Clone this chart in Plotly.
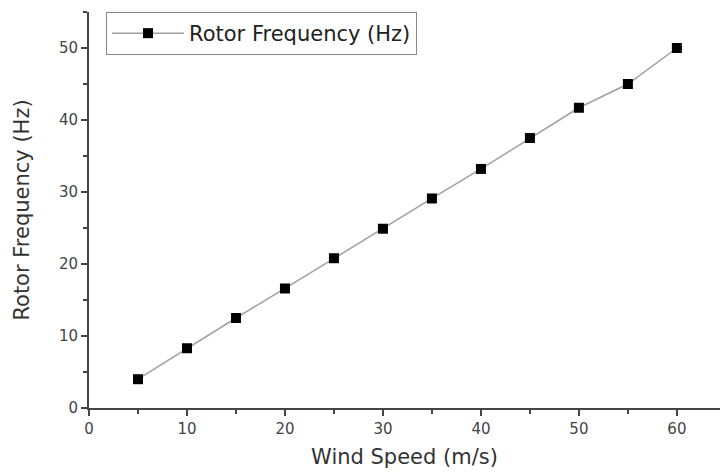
import plotly.graph_objects as go

wind_speed = [5, 10, 15, 20, 25, 30, 35, 40, 45, 50, 55, 60]
rotor_freq = [4.0, 8.3, 12.5, 16.6, 20.8, 24.9, 29.1, 33.2, 37.5, 41.7, 45.0, 50.0]

FONT = "DejaVu Sans, Liberation Sans, Arial"

fig = go.Figure()
fig.add_trace(go.Scatter(
    x=wind_speed, y=rotor_freq, mode="lines+markers",
    name="Rotor Frequency (Hz)", showlegend=True,
    line=dict(color="#a0a0a0", width=1.5),
    marker=dict(symbol="square", size=10, color="black"),
))

axis_common = dict(
    showline=True, linecolor="#444", linewidth=2,
    ticks="outside", ticklen=6, tickwidth=2, tickcolor="#444",
    showgrid=False, zeroline=False,
    tickfont=dict(family=FONT, size=15, color="#444"),
    title_font=dict(family=FONT, size=21, color="#333"),
)

fig.update_xaxes(
    range=[0, 64.4], dtick=10, title_text="Wind Speed (m/s)", title_standoff=12,
    minor=dict(dtick=5, ticks="outside", ticklen=4, tickwidth=2, tickcolor="#444"),
    **axis_common,
)
fig.update_yaxes(
    range=[0, 55], dtick=10, title_text="Rotor Frequency (Hz)", title_standoff=24,
    minor=dict(dtick=5, ticks="outside", ticklen=4, tickwidth=2, tickcolor="#444"),
    **axis_common,
)

fig.update_layout(
    width=720, height=472,
    margin=dict(l=89, r=0, t=12, b=64),
    paper_bgcolor="white", plot_bgcolor="white",
    legend=dict(
        x=0.027, y=1.0, xanchor="left", yanchor="top",
        bordercolor="#888", borderwidth=1, bgcolor="white",
        font=dict(family=FONT, size=21, color="#222"),
        itemwidth=72,
    ),
)

fig.write_html("out.html", config={"displayModeBar": False},
               post_script="document.body.style.margin='0';")
